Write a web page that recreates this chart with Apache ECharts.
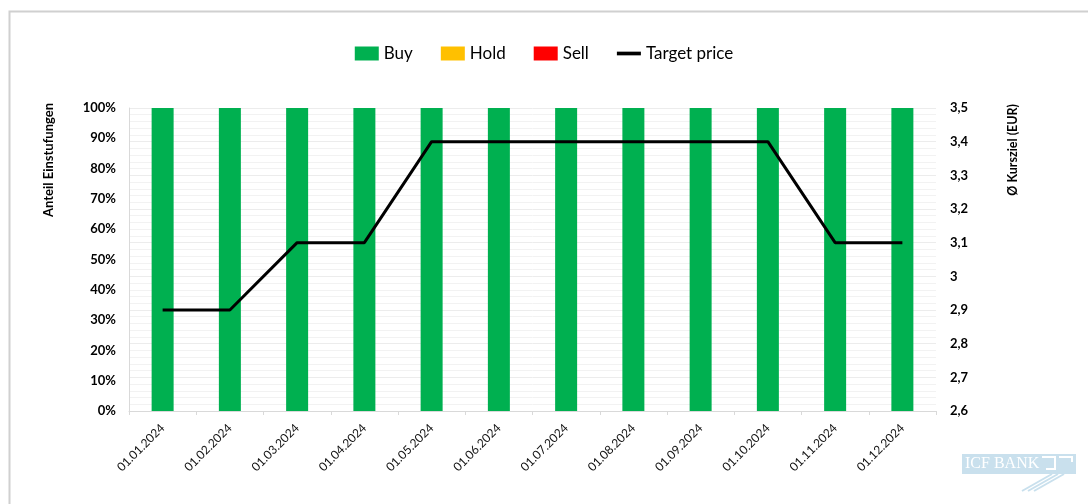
<!DOCTYPE html>
<html>
<head>
<meta charset="utf-8">
<script src="https://cdn.jsdelivr.net/npm/echarts@6/dist/echarts.min.js"></script>
<style>
  html, body { margin: 0; padding: 0; background: #fff; }
  #chart { width: 1088px; height: 504px; }
</style>
</head>
<body>
<div id="chart"></div>
<script>
var dates = ["01.01.2024", "01.02.2024", "01.03.2024", "01.04.2024", "01.05.2024", "01.06.2024",
             "01.07.2024", "01.08.2024", "01.09.2024", "01.10.2024", "01.11.2024", "01.12.2024"];
var buyShare = [1, 1, 1, 1, 1, 1, 1, 1, 1, 1, 1, 1];
var holdShare = [0, 0, 0, 0, 0, 0, 0, 0, 0, 0, 0, 0];
var sellShare = [0, 0, 0, 0, 0, 0, 0, 0, 0, 0, 0, 0];
var targetPrice = [2.9, 2.9, 3.1, 3.1, 3.4, 3.4, 3.4, 3.4, 3.4, 3.4, 3.1, 3.1];

var FONT = "Lato, 'Open Sans', sans-serif";

var myChart = echarts.init(document.getElementById("chart"));

var option = {
  backgroundColor: "#fff",
  animation: false,
  textStyle: { fontFamily: FONT },
  legend: {
    top: 40,
    left: "center",
    itemWidth: 24,
    itemHeight: 14,
    itemGap: 28,
    textStyle: { fontSize: 17, color: "#000", fontFamily: FONT },
    data: [
      { name: "Buy", icon: "rect" },
      { name: "Hold", icon: "rect" },
      { name: "Sell", icon: "rect" },
      { name: "Target price", icon: "path://M0,0 L26,0 L26,4 L0,4 Z" }
    ]
  },
  grid: { left: 129, right: 152, top: 108, bottom: 93 },
  xAxis: {
    type: "category",
    data: dates,
    boundaryGap: true,
    axisLine: { lineStyle: { color: "#d9d9d9" } },
    axisTick: { show: true, length: 4, lineStyle: { color: "#d9d9d9" } },
    axisLabel: { rotate: 45, fontSize: 12, color: "#111", fontFamily: FONT, margin: 15 }
  },
  yAxis: [
    {
      type: "value",
      min: 0,
      max: 1,
      interval: 0.1,
      axisLine: { show: true, lineStyle: { color: "#d9d9d9" } },
      axisTick: { show: false },
      splitLine: { show: false },
      axisLabel: {
        fontSize: 13, fontWeight: "bold", color: "#000", fontFamily: FONT, margin: 13,
        formatter: function (v) { return Math.round(v * 100) + "%"; }
      }
    },
    {
      type: "value",
      min: 2.6,
      max: 3.5,
      interval: 0.1,
      axisLine: { show: false },
      axisTick: { show: false },
      splitLine: { show: true, lineStyle: { color: "#ececec" } },
      minorTick: { show: false, splitNumber: 5 },
      minorSplitLine: { show: true, lineStyle: { color: "#f2f2f2" } },
      axisLabel: {
        fontSize: 13, fontWeight: "bold", color: "#000", fontFamily: FONT, margin: 14,
        formatter: function (v) { return String(Math.round(v * 10) / 10).replace(".", ","); }
      }
    }
  ],
  series: [
    {
      name: "Buy", type: "bar", stack: "rating", barWidth: 22,
      itemStyle: { color: "#00B050" }, data: buyShare
    },
    {
      name: "Hold", type: "bar", stack: "rating", barWidth: 22,
      itemStyle: { color: "#FFC000" }, data: holdShare
    },
    {
      name: "Sell", type: "bar", stack: "rating", barWidth: 22,
      itemStyle: { color: "#FF0000" }, data: sellShare
    },
    {
      name: "Target price", type: "line", yAxisIndex: 1,
      symbol: "none",
      lineStyle: { color: "#000", width: 3 },
      itemStyle: { color: "#000" },
      data: targetPrice,
      z: 5
    }
  ],
  graphic: [
    {
      type: "rect", left: 7, top: 9, silent: true,
      shape: { width: 1100, height: 520 },
      style: { fill: "none", stroke: "#d0d0d0", lineWidth: 2 }
    },
    {
      type: "text", left: 42, top: 103, rotation: Math.PI / 2,
      style: { text: "Anteil Einstufungen", font: "bold 13px " + FONT, fill: "#000" }
    },
    {
      type: "text", left: 1006, top: 104, rotation: Math.PI / 2,
      style: { text: "Ø Kursziel (EUR)", font: "bold 12.5px " + FONT, fill: "#000" }
    },
    {
      type: "group", left: 962, top: 454, silent: true,
      children: [
        { type: "rect", shape: { x: 0, y: 0, width: 114, height: 20 }, style: { fill: "#c9e0ed" } },
        { type: "text", x: 3, y: 2, style: { text: "ICF BANK", font: "16px 'Liberation Serif', serif", fill: "#fff" } },
        { type: "polyline", shape: { points: [[80, 3], [93, 3], [93, 15], [84, 15]] }, style: { stroke: "#fff", lineWidth: 2, fill: "none" } },
        { type: "polyline", shape: { points: [[97, 3], [110, 3], [110, 8]] }, style: { stroke: "#fff", lineWidth: 2, fill: "none" } },
        { type: "line", shape: { x1: 90, y1: 20, x2: 60, y2: 37 }, style: { stroke: "#c9e0ed", lineWidth: 2 } },
        { type: "line", shape: { x1: 96, y1: 20, x2: 66, y2: 37 }, style: { stroke: "#c9e0ed", lineWidth: 2 } },
        { type: "line", shape: { x1: 102, y1: 20, x2: 72, y2: 37 }, style: { stroke: "#c9e0ed", lineWidth: 2 } }
      ]
    }
  ]
};

option && myChart.setOption(option);
</script>
</body>
</html>
